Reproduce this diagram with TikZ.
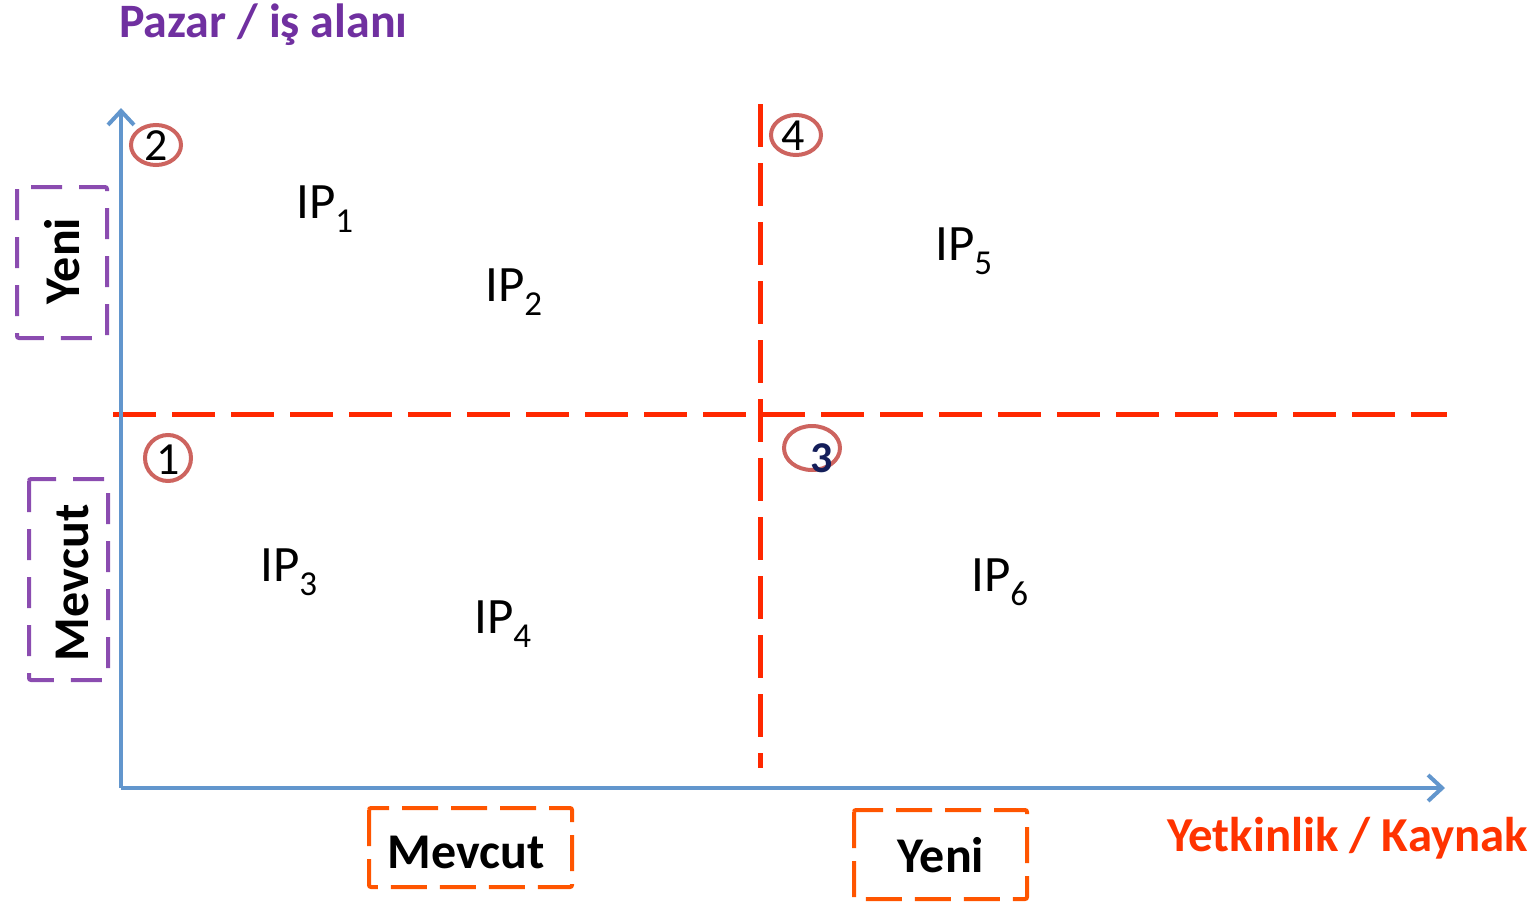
\documentclass[tikz,border=0pt]{standalone}
\usepackage{fontspec}
\setmainfont{Carlito}
\usetikzlibrary{arrows.meta}
\definecolor{axisblue}{RGB}{98,150,205}
\definecolor{splitred}{RGB}{255,40,0}
\definecolor{boxpurple}{RGB}{139,76,176}
\definecolor{boxorange}{RGB}{255,85,0}
\definecolor{titlepurple}{RGB}{112,48,160}
\definecolor{titleorange}{RGB}{255,51,0}
\definecolor{ringred}{RGB}{205,100,95}
\definecolor{navy}{RGB}{20,30,90}
\newcommand{\ipsub}[1]{{\fontsize{35}{35}\selectfont\raisebox{-14pt}{#1}}}
\tikzset{
  axisline/.style={draw=axisblue,line width=4pt,-{Straight Barb[length=14pt,width=26pt,line width=4pt]}},
  splitline/.style={draw=splitred,line width=5pt,dash pattern=on 43pt off 16pt},
  purplebox/.style={draw=boxpurple,line width=4pt,dash pattern=on 31pt off 17pt,rounded corners=2pt},
  orangebox/.style={draw=boxorange,line width=4pt,dash pattern=on 36pt off 13pt,rounded corners=2pt},
  ring/.style={draw=ringred,line width=4pt},
  ringnum/.style={font=\fontsize{46}{46}\selectfont,inner sep=0pt},
  iplabel/.style={font=\fontsize{51}{51}\selectfont,anchor=base west,inner sep=0pt},
  boxlabel/.style={font=\fontsize{50}{50}\selectfont\bfseries,inner sep=0pt},
  axislabel/.style={font=\fontsize{48}{48}\selectfont\bfseries,inner sep=0pt}
}
\begin{document}
\begin{tikzpicture}[x=1pt,y=-1pt]
\useasboundingbox (0,0) rectangle (1539,902);
% axis titles
\node[axislabel,text=titlepurple,anchor=base west] (ttl) at (119,37) {Pazar / iş alanı};
\node[axislabel,text=titleorange,anchor=base west,font=\fontsize{48.8}{48.8}\selectfont\bfseries] (xlbl) at (1167,851) {Yetkinlik / Kaynak};
% split lines
\coordinate (hl) at (113,414);
\coordinate (hr) at (1447,414);
\coordinate (vt) at (760,104);
\coordinate (vb) at (760,768);
\draw[splitline] (hl) -- (hr);
\draw[splitline] (vt) -- (vb);
% axes
\coordinate (o) at (121,788);
\coordinate (yend) at (121,108);
\coordinate (xend) at (1445,788);
\draw[axisline] (o) -- (yend);
\draw[axisline] (o) -- (xend);
% rings
\draw[ring] (156,145) ellipse [x radius=25, y radius=20];
\node[ringnum] (n2) at (156,146) {2};
\draw[ring] (796,135) ellipse [x radius=25, y radius=20];
\node[ringnum] (n4) at (793,136) {4};
\draw[ring] (168,458) ellipse [x radius=23, y radius=23];
\node[ringnum] (n1) at (168,460) {1};
\draw[ring] (812,448) ellipse [x radius=28, y radius=22];
\node[ringnum,text=navy,font=\fontsize{44}{44}\selectfont\bfseries] (n3) at (822,458) {3};
% IP labels
\node[iplabel] (ip1) at (296,218) {IP\ipsub{1}};
\node[iplabel] (ip2) at (485,301) {IP\ipsub{2}};
\node[iplabel] (ip5) at (935,260) {IP\ipsub{5}};
\node[iplabel] (ip3) at (260,581) {IP\ipsub{3}};
\node[iplabel] (ip4) at (474,633) {IP\ipsub{4}};
\node[iplabel] (ip6) at (971,591) {IP\ipsub{6}};
% left purple boxes
\draw[purplebox] (17,187) rectangle (107,338);
\node[boxlabel,rotate=90] (yy) at (62,261) {Yeni};
\draw[purplebox] (29,479) rectangle (108,680);
\node[boxlabel,rotate=90] (ym) at (72,583) {Mevcut};
% bottom orange boxes
\draw[orangebox] (369,808) rectangle (572,887);
\node[boxlabel] (xm) at (466,852) {Mevcut};
\draw[orangebox] (854,810) rectangle (1027,899);
\node[boxlabel] (xy) at (941,855) {Yeni};
\end{tikzpicture}
\end{document}
